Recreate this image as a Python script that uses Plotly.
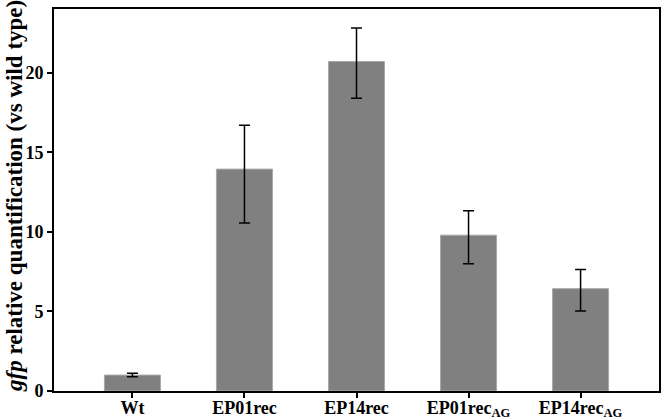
import plotly.graph_objects as go

categories = ["Wt", "EP01rec", "EP14rec", "EP01rec<sub>AG</sub>", "EP14rec<sub>AG</sub>"]
values = [1.0, 13.94, 20.7, 9.79, 6.43]
err_plus = [0.12, 2.75, 2.1, 1.53, 1.2]
err_minus = [0.1, 3.39, 2.3, 1.79, 1.4]
y_ticks = [0, 5, 10, 15, 20]

FAM = "Liberation Serif, Times New Roman, serif"

fig = go.Figure()
fig.add_trace(go.Bar(
    x=list(range(len(categories))),
    y=values,
    width=0.5,
    marker=dict(color="#808080", line=dict(color="#a8a8a8", width=1)),
    error_y=dict(type="data", symmetric=False, array=err_plus, arrayminus=err_minus,
                 color="black", thickness=1.5, width=5.5),
))

fig.update_layout(
    width=661, height=417,
    margin=dict(l=54, r=2, t=9, b=26),
    plot_bgcolor="white", paper_bgcolor="white",
    showlegend=False,
    font=dict(family=FAM, size=18, color="black"),
    xaxis=dict(
        range=[-0.7, 4.7],
        automargin=False,
        tickmode="array",
        tickvals=list(range(len(categories))),
        ticktext=["<b>%s</b>" % c for c in categories],
        ticks="outside", ticklen=5, tickwidth=1.5, tickcolor="black",
        ticklabelstandoff=-6,
        showline=True, linecolor="black", linewidth=2, mirror=True,
        showgrid=False, zeroline=False,
        tickfont=dict(family=FAM, size=18, color="black"),
    ),
    yaxis=dict(
        range=[0, 24],
        automargin=False,
        tickmode="array",
        tickvals=y_ticks,
        ticktext=["<b>%d</b>" % v for v in y_ticks],
        ticks="outside", ticklen=5, tickwidth=1.5, tickcolor="black",
        showline=True, linecolor="black", linewidth=2, mirror=True,
        showgrid=False, zeroline=False,
        tickfont=dict(family=FAM, size=18, color="black"),
    ),
    annotations=[dict(
        text="<b><i>gfp</i> relative quantification (vs wild type)</b>",
        xref="paper", yref="paper", x=0, y=0.5, xshift=-40, yshift=4,
        xanchor="center", yanchor="middle", textangle=-90, showarrow=False,
        font=dict(family=FAM, size=23, color="black"),
    )],
)

fig.write_html("out.html", config={"displayModeBar": False},
               post_script="document.body.style.margin='0';")
